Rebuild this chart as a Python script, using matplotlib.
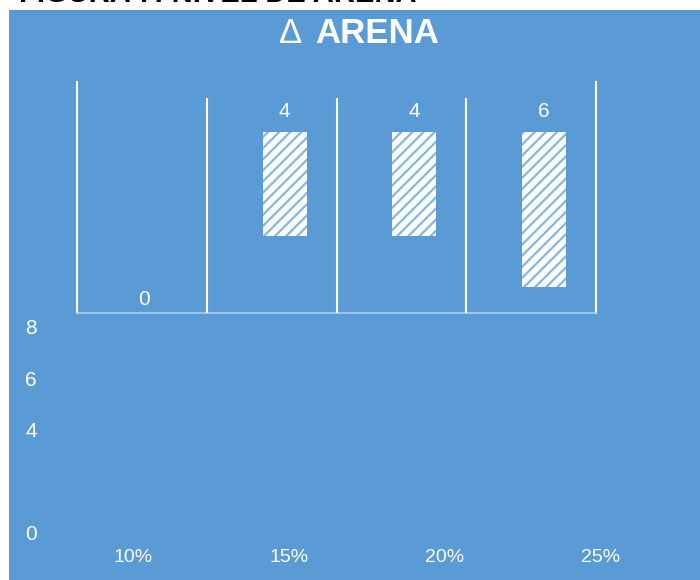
import matplotlib
matplotlib.use("Agg")
import matplotlib.pyplot as plt
from matplotlib.patches import Rectangle
import numpy as np

plt.rcParams["font.family"] = ["Liberation Sans", "DejaVu Sans"]
plt.rcParams["hatch.linewidth"] = 1.6

# Data
categories = ["10%", "15%", "20%", "25%"]
delta_arena = [0, 4, 4, 6]
y_ticks = [0, 4, 6, 8]

BLUE = "#5B9BD5"
HATCH = "#86B6E3"
AXIS_LINE = "#A9CBEB"

W, H = 700, 580
fig = plt.figure(figsize=(W / 100, H / 100), dpi=100, facecolor="white")


def fx(px):
    return px / W


def fy(py):
    return 1 - py / H


# Blue chart area
fig.add_artist(Rectangle((fx(9), 0), 1 - fx(9), 1 - 10 / H,
                         transform=fig.transFigure, facecolor=BLUE,
                         edgecolor="none", zorder=0))

# Figure heading (running off the top of the page) and chart title
fig.text(fx(19), fy(2), "FIGURA 7: NIVEL DE ARENA", color="black",
         fontsize=21, fontweight="bold", ha="left", va="baseline")
fig.text(fx(291), fy(43), "\u0394", color="white", fontsize=25,
         ha="center", va="baseline")
fig.text(fx(315), fy(43), "ARENA", color="white", fontsize=25,
         fontweight="bold", ha="left", va="baseline")

# Upper panel: floating hatched bars between white separators
ax = fig.add_axes([fx(77), fy(313), (596 - 77) / W, (313 - 82) / H])
ax.set_facecolor("none")
x = np.arange(len(categories))
y_bottom, y_top = 7.0, -1.95
ax.set_xlim(-0.6, len(categories) - 0.6)
ax.set_ylim(y_bottom, y_top)

ax.bar(x, delta_arena, width=0.34, bottom=0, color="white",
       edgecolor=HATCH, linewidth=0, hatch="///", zorder=2)

boundaries = np.arange(1, len(categories)) - 0.6
ax.vlines(boundaries, y_bottom, -1.33, color="white", linewidth=1.5, zorder=3)

for side in ("left", "right"):
    ax.spines[side].set_color("white")
    ax.spines[side].set_linewidth(1.5)
ax.spines["top"].set_visible(False)
ax.spines["bottom"].set_color(AXIS_LINE)
ax.spines["bottom"].set_linewidth(1.2)
ax.set_xticks([])
ax.set_yticks([])

for xi, v in zip(x, delta_arena):
    if v > 0:
        ax.annotate(str(v), xy=(xi, 0), xytext=(0, 15),
                    textcoords="offset points", ha="center", va="center",
                    color="white", fontsize=15)
    else:
        ax.annotate(str(v), xy=(xi, 0), xycoords=("data", "axes fraction"),
                    xytext=(-8, 10), textcoords="offset points",
                    ha="center", va="center", color="white", fontsize=15)

# Lower panel: value and category scales
ax2 = fig.add_axes([fx(55), fy(532.5), 624 / W, 206 / H])
ax2.set_facecolor("none")
ax2.set_xlim(-0.5, len(categories) - 0.5)
ax2.set_ylim(0, 8)
ax2.set_yticks(y_ticks)
ax2.set_yticklabels([str(t) for t in y_ticks])
ax2.set_xticks(x)
ax2.set_xticklabels(categories)
for s in ax2.spines.values():
    s.set_visible(False)
ax2.tick_params(axis="y", length=0, pad=13, labelsize=15, labelcolor="white")
ax2.tick_params(axis="x", length=0, pad=12, labelsize=14, labelcolor="white")

fig.savefig("out.png", dpi=100, facecolor="white")
